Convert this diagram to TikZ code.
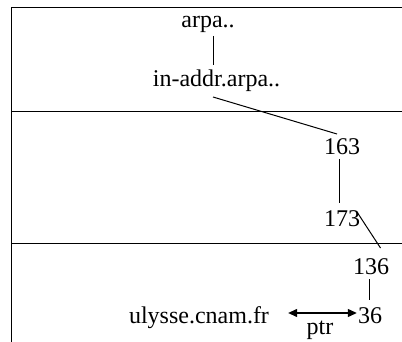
\documentclass[tikz,border=0pt]{standalone}
\usepackage{fontspec}
\setmainfont{Liberation Serif}
\usetikzlibrary{arrows.meta}
\begin{document}
\begin{tikzpicture}[x=1pt,y=-1pt,
  zone/.style={line width=1.6pt},
  link/.style={line width=1pt},
  label/.style={anchor=base,inner sep=0pt,font=\fontsize{24}{28}\selectfont},
  tip/.style={{Triangle[length=9pt,width=8pt]}-{Triangle[length=9pt,width=8pt]},line width=1.2pt}]
\useasboundingbox (0,0) rectangle (402,342);
% zone boundaries
\draw[zone] (402,7.5) -- (11.5,7.5) -- (11.5,342);
\draw[zone] (11,111.5) -- (402,111.5);
\draw[zone] (11,243.5) -- (402,243.5);
% names
\node[label] (arpa)   at (208,28)  {arpa..};
\node[label] (inaddr) at (216.5,87) {in-addr.arpa..};
\node[label] (n163)   at (342,155) {163};
\node[label] (n173)   at (342,226) {173};
\node[label] (n136)   at (371,274) {136};
\node[label] (n36)    at (370,323) {36};
\node[label] (ulysse) at (199,323) {ulysse.cnam.fr};
\node[label] (ptr)    at (320,334) {ptr};
% tree links
\draw[link] ([shift={(5,8)}]arpa.base) -- ([shift={(-3.5,-22)}]inaddr.base);
\draw[link] ([shift={(-3.5,10)}]inaddr.base) -- ([shift={(-5,-21)}]n163.base);
\draw[link] ([shift={(-3,4)}]n163.base) -- ([shift={(-3,-23)}]n173.base);
\draw[link] ([shift={(15,-14)}]n173.base) -- ([shift={(9.5,-26)}]n136.base);
\draw[link] ([shift={(-2,5)}]n136.base) -- ([shift={(-1,-23)}]n36.base);
% pointer record
\draw[tip] ([shift={(19,-10)}]ulysse.base east) -- ([shift={(-1,-10)}]n36.base west);
\end{tikzpicture}
\end{document}
